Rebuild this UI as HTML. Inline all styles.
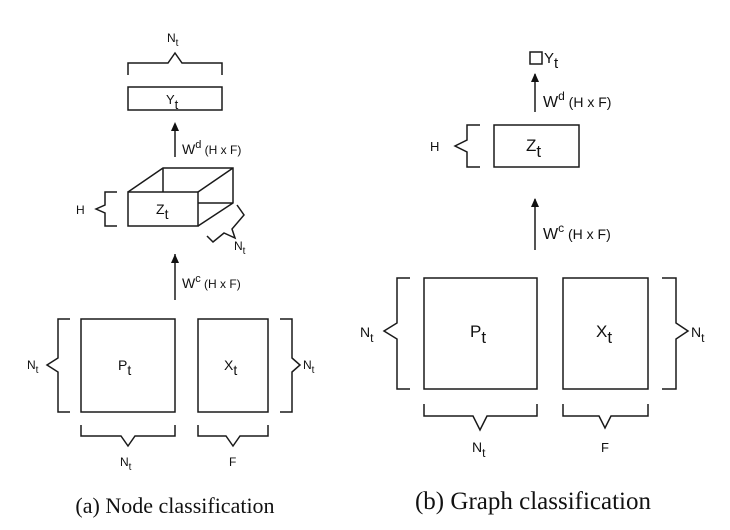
<!DOCTYPE html>
<html><head><meta charset="utf-8"><style>
html,body{margin:0;padding:0;background:#fff;width:730px;height:530px;overflow:hidden}
svg text{font-family:"Liberation Sans",sans-serif;fill:#111}
</style></head><body>
<svg width="730" height="530" viewBox="0 0 730 530" xmlns="http://www.w3.org/2000/svg">
<g fill="none" stroke="#1a1a1a" stroke-width="1.5">
<!-- left -->
<polyline points="128,75 128,63 168,63 175,53 182,63 222,63 222,75"/>
<rect x="128" y="87" width="94" height="23"/>
<line x1="175" y1="157" x2="175" y2="124"/>
<path d="M128,192 L163,168 L233,168 L233,203 L198,226 M198,192 L233,168 M163,168 L163,192 M198,203 L233,203"/>
<rect x="128" y="192" width="70" height="34"/>
<polyline points="117,192 105,192 105,205 96,209 105,213 105,226 117,226"/>
<polyline points="237,205 244,215 232,229 235,238 224,233 213,242 207,236"/>
<line x1="175" y1="300" x2="175" y2="254"/>
<rect x="81" y="319" width="94" height="93"/>
<rect x="198" y="319" width="70" height="93"/>
<polyline points="70,319 58,319 58,358 47,365 58,372 58,412 70,412"/>
<polyline points="280,319 292,319 292,358 300,365 292,372 292,412 280,412"/>
<polyline points="81,425 81,436 121,436 128,446 135,436 175,436 175,425"/>
<polyline points="198,425 198,436 226,436 233,446 240,436 268,436 268,425"/>
<!-- right -->
<rect x="530" y="52" width="12" height="12"/>
<line x1="535" y1="112" x2="535" y2="74"/>
<rect x="494" y="125" width="85" height="42"/>
<polyline points="480,125 467,125 467,140 455,146 467,152 467,167 480,167"/>
<line x1="535" y1="250" x2="535" y2="199"/>
<rect x="424" y="278" width="113" height="111"/>
<rect x="563" y="278" width="85" height="111"/>
<polyline points="410,278 397,278 397,323 384,331 397,339 397,389 410,389"/>
<polyline points="662,278 676,278 676,323 688,331 676,339 676,389 662,389"/>
<polyline points="424,404 424,416 473,416 480,430 487,416 537,416 537,404"/>
<polyline points="563,404 563,416 599,416 605,428 611,416 648,416 648,404"/>
</g>
<g fill="#111">
<path d="M171,131 L175,122 L179,131 Z"/><path d="M171,263 L175,254 L179,263 Z"/>
<path d="M531,82 L535,73 L539,82 Z"/><path d="M531,207 L535,198 L539,207 Z"/>
</g>
<g font-size="12">
<text x="167" y="42">N<tspan font-size="10" dy="4">t</tspan></text>
<text x="166" y="104" font-size="13">Y<tspan dy="5">t</tspan></text>
<text x="182" y="154" font-size="14">W<tspan font-size="11" dy="-6">d</tspan><tspan font-size="12" dy="6"> (H x F)</tspan></text>
<text x="156" y="214" font-size="14">Z<tspan dy="5">t</tspan></text>
<text x="76" y="214">H</text>
<text x="234" y="250">N<tspan font-size="10" dy="4">t</tspan></text>
<text x="182" y="288" font-size="14">W<tspan font-size="11" dy="-6">c</tspan><tspan font-size="12" dy="6"> (H x F)</tspan></text>
<text x="118" y="370" font-size="14">P<tspan dy="5">t</tspan></text>
<text x="224" y="370" font-size="14">X<tspan dy="5">t</tspan></text>
<text x="27" y="369">N<tspan font-size="10" dy="4">t</tspan></text>
<text x="303" y="369">N<tspan font-size="10" dy="4">t</tspan></text>
<text x="120" y="466">N<tspan font-size="10" dy="4">t</tspan></text>
<text x="229" y="466">F</text>
<text x="175" y="513" font-size="22" text-anchor="middle" style="font-family:'Liberation Serif',serif">(a) Node classification</text>
<text x="544" y="63" font-size="15">Y<tspan dy="5">t</tspan></text>
<text x="543" y="107" font-size="16">W<tspan font-size="12" dy="-7">d</tspan><tspan font-size="14" dy="7"> (H x F)</tspan></text>
<text x="526" y="151" font-size="17">Z<tspan dy="6">t</tspan></text>
<text x="430" y="151" font-size="13">H</text>
<text x="543" y="239" font-size="16">W<tspan font-size="12" dy="-7">c</tspan><tspan font-size="14" dy="7"> (H x F)</tspan></text>
<text x="470" y="337" font-size="17">P<tspan dy="6">t</tspan></text>
<text x="596" y="337" font-size="17">X<tspan dy="6">t</tspan></text>
<text x="360" y="337" font-size="14">N<tspan font-size="12" dy="5">t</tspan></text>
<text x="691" y="337" font-size="14">N<tspan font-size="12" dy="5">t</tspan></text>
<text x="472" y="452" font-size="14">N<tspan font-size="12" dy="5">t</tspan></text>
<text x="601" y="452" font-size="13">F</text>
<text x="533" y="509" font-size="25" text-anchor="middle" style="font-family:'Liberation Serif',serif">(b) Graph classification</text>
</g>
</svg>
</body></html>
